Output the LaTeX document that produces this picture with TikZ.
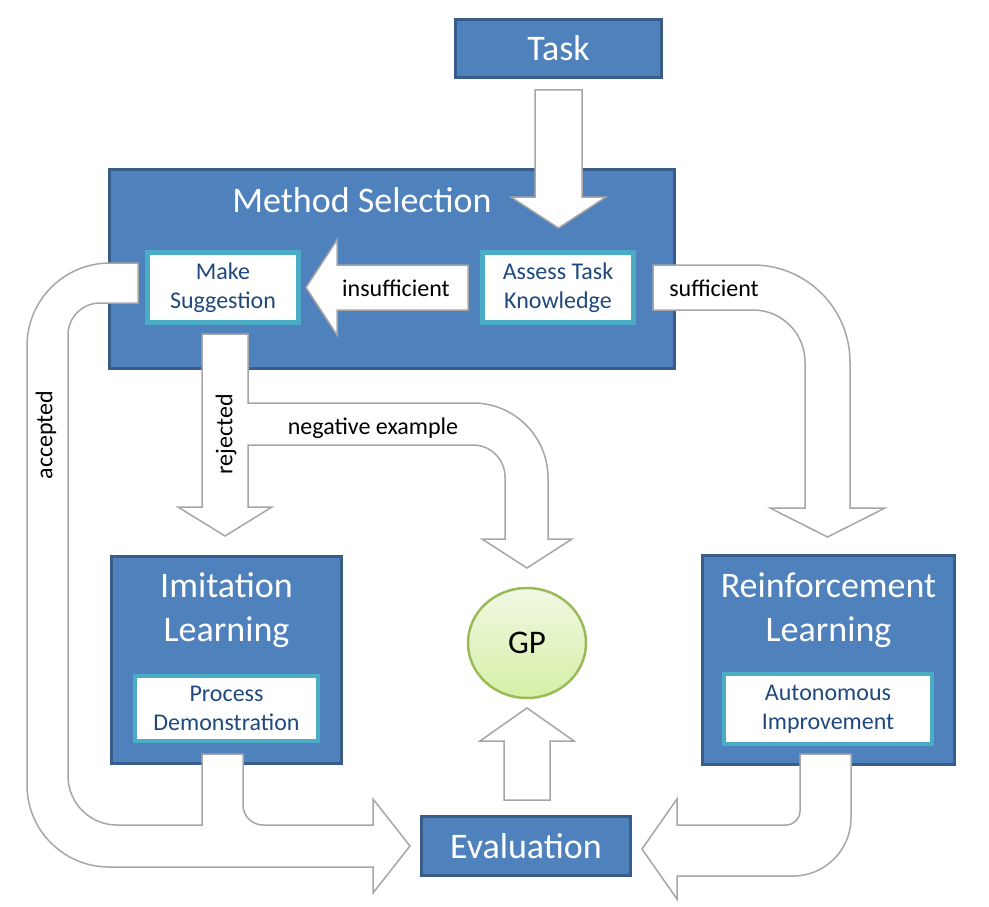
\documentclass[tikz,border=0pt]{standalone}
\usepackage{fontspec}
\setmainfont{Carlito}
\usetikzlibrary{shapes,positioning}

\begin{document}
\begin{tikzpicture}[x=1pt, y=-1pt,
    bluebox/.style={fill=boxblue, draw=boxborder, line width=3pt, inner sep=0pt},
    innerbox/.style={fill=white, draw=innerborder, line width=4.5pt, inner sep=0pt,
        text=innertext, align=center, font=\fontsize{24}{29}\selectfont},
    titletext/.style={text=white, align=center, font=\fontsize{36}{44}\selectfont},
    labeltext/.style={font=\fontsize{24}{29}\selectfont},
    blockarrow/.style={fill=white, draw=arrowgray, line width=1.5pt}]

% Define colors
\definecolor{boxblue}{RGB}{79,129,189}
\definecolor{boxborder}{RGB}{56,93,138}
\definecolor{innerborder}{RGB}{75,172,198}
\definecolor{innertext}{RGB}{31,73,125}
\definecolor{arrowgray}{RGB}{166,166,166}
\definecolor{gptop}{RGB}{240,248,228}
\definecolor{gpbottom}{RGB}{214,240,166}
\definecolor{gpborder}{RGB}{155,187,89}

\useasboundingbox (0,0) rectangle (989,907);

% Outer boxes
\node[bluebox, titletext, minimum width=206pt, minimum height=58pt] (task) at (558.5,48.5) {Task};
\node[bluebox, minimum width=565pt, minimum height=199pt] (method) at (392,269) {};
\node[bluebox, minimum width=230pt, minimum height=207pt] (imit) at (226.5,660) {};
\node[bluebox, minimum width=252pt, minimum height=209pt] (reinf) at (828.5,660) {};
\node[bluebox, titletext, minimum width=209pt, minimum height=59pt] (eval) at (526,846) {Evaluation};
\node[ellipse, draw=gpborder, line width=2.5pt, top color=gptop, bottom color=gpbottom,
    minimum width=118pt, minimum height=110pt, inner sep=0pt,
    font=\fontsize{33}{40}\selectfont] (gp) at (527,643) {GP};

% Block arrows
\draw[blockarrow] (535,90) -- (582,90) -- (582,197) -- (606,197) -- (558.5,228)
    -- (511,197) -- (535,197) -- cycle;
\draw[blockarrow] (468,265) -- (337,265) -- (337,240) -- (306,287.5) -- (337,335)
    -- (337,310) -- (468,310) -- cycle;
\draw[blockarrow] (653,265) -- (753,265) arc[start angle=90, end angle=0, radius=97pt]
    -- (850,508) -- (885,508) -- (827.5,537) -- (770,508) -- (805,508) -- (805,362)
    arc[start angle=0, end angle=90, radius=52pt] -- (653,310) -- cycle;
\draw[blockarrow] (138,263) -- (110,263) arc[start angle=90, end angle=180, radius=83pt]
    -- (27,785) arc[start angle=180, end angle=270, radius=82pt]
    -- (373,867) -- (373,893) -- (410,846) -- (373,799) -- (373,825)
    -- (263,825) arc[start angle=270, end angle=180, radius=20pt]
    -- (243,754) -- (202,754) -- (202,825)
    -- (117,825) arc[start angle=270, end angle=180, radius=49pt]
    -- (68,335) arc[start angle=180, end angle=90, radius=32pt]
    -- (138,303) -- cycle;
\draw[blockarrow] (800,754) -- (851,754) -- (851,818) arc[start angle=0, end angle=-90, radius=58pt]
    -- (677,876) -- (677,899) -- (642,849) -- (677,799) -- (677,825)
    -- (786,825) arc[start angle=-90, end angle=0, radius=14pt] -- cycle;
\draw[blockarrow] (202,334) -- (248,334) -- (248,403)
    -- (473,403) arc[start angle=90, end angle=0, radius=75pt]
    -- (548,539) -- (572,539) -- (527,568) -- (482,539) -- (505,539)
    -- (505,477) arc[start angle=0, end angle=90, radius=32pt]
    -- (248,445) -- (248,507) -- (272,507) -- (225,536) -- (178,507) -- (202,507) -- cycle;
\draw[blockarrow] (504,800) -- (550,800) -- (550,741) -- (574,741) -- (527,708)
    -- (480,741) -- (504,741) -- cycle;

% Titles and inner boxes
\node[titletext] (methodtitle) at (362,200) {Method Selection};
\node[titletext] (imittitle) at (226.5,610) {Imitation\\Learning};
\node[titletext] (reinftitle) at (828.5,610) {Reinforcement\\Learning};
\node[innerbox, minimum width=151pt, minimum height=70pt] (make) at (223,287.5) {Make\\Suggestion};
\node[innerbox, minimum width=151pt, minimum height=70pt] (assess) at (558,287.5) {Assess Task\\Knowledge};
\node[innerbox, minimum width=183pt, minimum height=65pt] (demo) at (226.5,708.5) {Process\\Demonstration};
\node[innerbox, minimum width=208pt, minimum height=70pt] (auto) at (828,709) {Autonomous\\Improvement};

% Arrow labels
\node[labeltext] (insuf) at (396,288) {insufficient};
\node[labeltext] (suf) at (714,288) {sufficient};
\node[labeltext, anchor=base] (neg) at (373,434) {negative example};
\node[labeltext, rotate=90] (rej) at (226,434) {rejected};
\node[labeltext, rotate=90] (acc) at (46,435) {accepted};

\end{tikzpicture}
\end{document}
